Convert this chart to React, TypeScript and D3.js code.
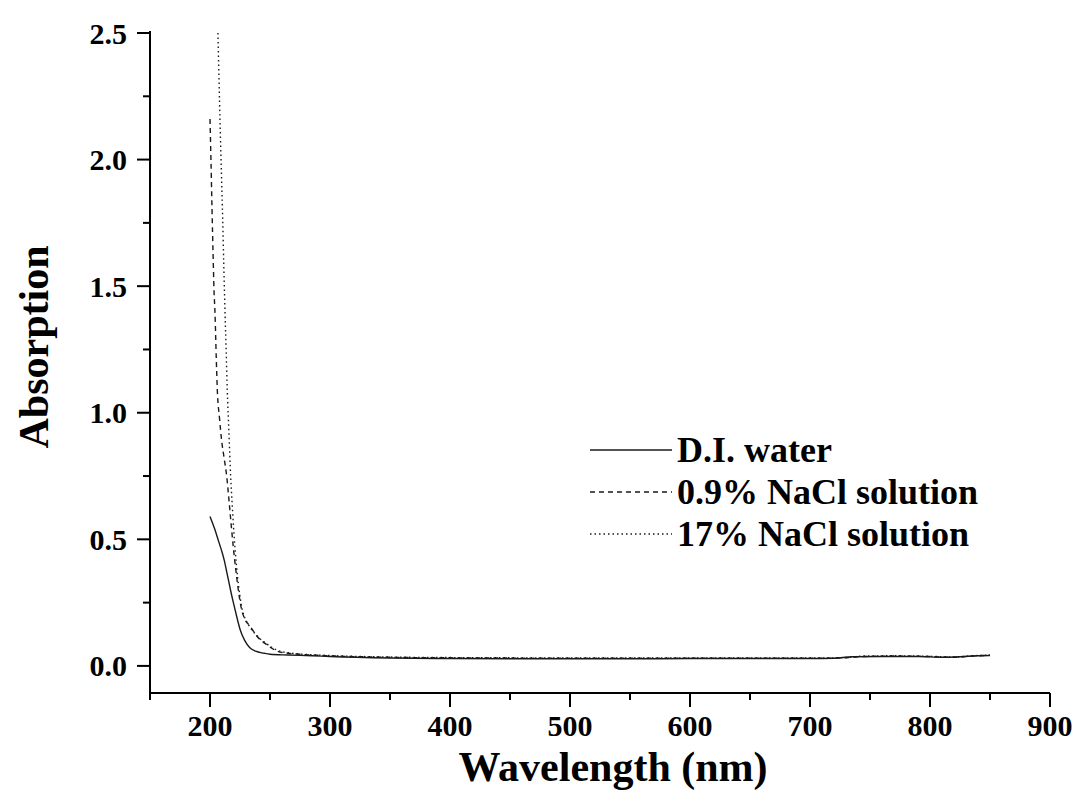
import React from "react";
import * as d3 from "d3";

// wavelength (nm) / absorption
const waterNm = [200, 202, 204, 206, 208, 210, 212, 214, 216, 218, 220, 222, 225, 229, 233, 238, 245, 250, 265, 285, 300, 350, 400, 450, 500, 550, 600, 650, 700, 720, 735, 760, 790, 810, 825, 840, 850];
const waterAbs = [0.59, 0.565, 0.54, 0.51, 0.48, 0.45, 0.415, 0.37, 0.325, 0.28, 0.24, 0.2, 0.145, 0.1, 0.073, 0.058, 0.05, 0.046, 0.043, 0.04, 0.037, 0.031, 0.029, 0.028, 0.028, 0.028, 0.029, 0.029, 0.029, 0.03, 0.036, 0.037, 0.037, 0.034, 0.036, 0.04, 0.041];

const nacl09Nm = [200, 200.8, 201.7, 202.6, 203.3, 204.2, 205.2, 206.1, 207.9, 209.7, 211.8, 213.9, 216, 217.8, 219.4, 221.5, 223.6, 226, 228.5, 233.3, 239, 247, 255.6, 265, 275, 300, 350, 400, 450, 500, 550, 600, 650, 700, 730, 745, 770, 800, 820, 835, 850];
const nacl09Abs = [2.16, 2.0, 1.8, 1.62, 1.49, 1.39, 1.22, 1.09, 0.98, 0.89, 0.82, 0.75, 0.645, 0.55, 0.47, 0.38, 0.3, 0.23, 0.19, 0.158, 0.118, 0.085, 0.059, 0.05, 0.046, 0.04, 0.034, 0.032, 0.031, 0.03, 0.03, 0.03, 0.03, 0.03, 0.032, 0.037, 0.039, 0.037, 0.034, 0.039, 0.042];

const nacl17Nm = [206.6, 207.5, 208.3, 209.5, 210.6, 211.5, 212.5, 213.5, 214.4, 215.8, 217.2, 218.6, 220, 222, 224, 227, 230, 233, 239, 247, 256, 265, 275, 290, 300, 350, 400, 450, 500, 550, 600, 650, 700, 730, 745, 770, 800, 820, 835, 850];
const nacl17Abs = [2.5, 2.32, 2.16, 1.95, 1.76, 1.58, 1.4, 1.24, 1.09, 0.92, 0.75, 0.63, 0.52, 0.4, 0.31, 0.22, 0.18, 0.155, 0.12, 0.088, 0.062, 0.052, 0.047, 0.043, 0.041, 0.035, 0.033, 0.032, 0.031, 0.031, 0.031, 0.031, 0.031, 0.033, 0.039, 0.04, 0.038, 0.035, 0.04, 0.043];

const seriesNames = ["D.I. water", "0.9% NaCl solution", "17% NaCl solution"];
const xTicks = [200, 300, 400, 500, 600, 700, 800, 900];
const yTicks = [0.0, 0.5, 1.0, 1.5, 2.0, 2.5];

const FONT = "'Liberation Serif', 'Times New Roman', serif";

const x = d3.scaleLinear().domain([150, 900]).range([150, 1050]);
const y = d3.scaleLinear().domain([-0.107, 2.5]).range([693, 33]);

const dashes = [null, "5,4", "1.5,3"];

const App = () => {
  const series = [
    d3.zip(waterNm, waterAbs),
    d3.zip(nacl09Nm, nacl09Abs),
    d3.zip(nacl17Nm, nacl17Abs),
  ];
  const line = d3
    .line<number[]>()
    .x((d) => x(d[0]))
    .y((d) => y(d[1]))
    .curve(d3.curveMonotoneX);

  const xMinor = d3.range(150, 901, 50).filter((v) => v % 100 !== 0);
  const yMinor = d3.range(0.25, 2.5, 0.5);

  return (
    <svg
      width={1080}
      height={810}
      style={{ position: "absolute", left: 0, top: 0, background: "#fff" }}
      fontFamily={FONT}
      fontWeight="bold"
    >
      {/* curves */}
      <g fill="none" stroke="#1a1a1a" strokeWidth={1.4}>
        {series.map((s, i) => (
          <path key={i} d={line(s) || ""} strokeDasharray={dashes[i] || undefined} />
        ))}
      </g>

      {/* x axis */}
      <g stroke="#000" strokeWidth={2}>
        <line x1={x(150)} x2={x(900)} y1={693} y2={693} />
        {xTicks.map((t) => (
          <line key={t} x1={x(t)} x2={x(t)} y1={693} y2={707} />
        ))}
        {xMinor.map((t) => (
          <line key={t} x1={x(t)} x2={x(t)} y1={693} y2={700} />
        ))}
      </g>
      {xTicks.map((t) => (
        <text key={t} x={x(t)} y={736} textAnchor="middle" fontSize={30}>
          {t}
        </text>
      ))}
      <text x={613} y={781} textAnchor="middle" fontSize={42}>
        Wavelength (nm)
      </text>

      {/* y axis */}
      <g stroke="#000" strokeWidth={2}>
        <line x1={150} x2={150} y1={y(2.5) - 2} y2={694} />
        {yTicks.map((t) => (
          <line key={t} x1={137} x2={150} y1={y(t)} y2={y(t)} />
        ))}
        {yMinor.map((t) => (
          <line key={t} x1={143} x2={150} y1={y(t)} y2={y(t)} />
        ))}
      </g>
      {yTicks.map((t) => (
        <text
          key={t}
          x={127}
          y={y(t)}
          textAnchor="end"
          dominantBaseline="central"
          fontSize={30}
        >
          {d3.format(".1f")(t)}
        </text>
      ))}
      <text
        transform={`translate(48 ${347}) rotate(-90)`}
        textAnchor="middle"
        fontSize={42}
      >
        Absorption
      </text>

      {/* legend */}
      {seriesNames.map((name, i) => (
        <g key={name} transform={`translate(0 ${450 + i * 42})`}>
          <line
            x1={590}
            x2={672}
            y1={0}
            y2={0}
            stroke="#1a1a1a"
            strokeWidth={1.4}
            strokeDasharray={dashes[i] || undefined}
          />
          <text x={677} y={0} dominantBaseline="central" fontSize={36}>
            {name}
          </text>
        </g>
      ))}
    </svg>
  );
};

export default App;
